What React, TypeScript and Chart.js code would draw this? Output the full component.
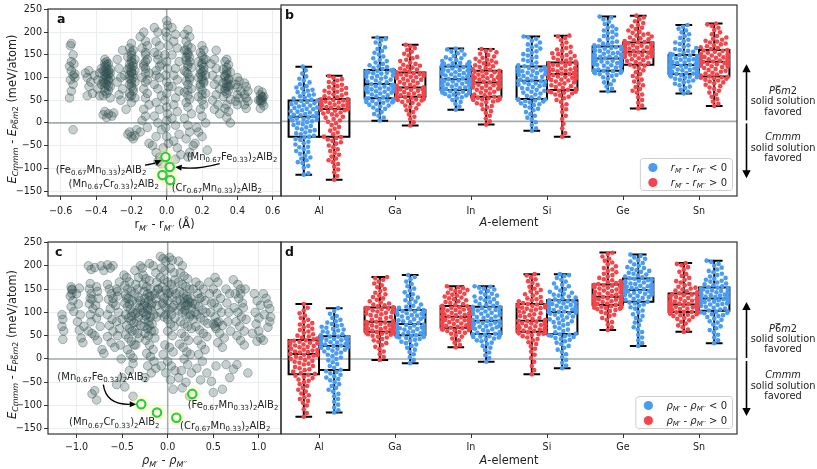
import React, { useEffect, useRef } from 'react';
import { Chart, registerables } from 'chart.js';
Chart.register(...registerables);

const FONT = '"DejaVu Sans", sans-serif';

// ---------------- data ----------------
const A_ELEMENTS = ['Al', 'Ga', 'In', 'Si', 'Ge', 'Sn'];
const E_TICKS = [-150, -100, -50, 0, 50, 100, 150, 200, 250];
const R_TICKS = [-0.6, -0.4, -0.2, 0, 0.2, 0.4, 0.6];
const RHO_TICKS = [-1, -0.5, 0, 0.5, 1];

// [min, q1, median, q3, max] per A-element
const BOX_B_NEG = [[-115, -33, 10, 45, 118], [1.5, 50, 80.6, 111, 181], [25, 67.6, 91, 118.5, 157], [-20, 48, 87.7, 118.5, 183], [64.6, 109, 135.8, 161.6, 226], [60, 102, 121.5, 143, 207.7]];
const BOX_B_POS = [[-126, -33, 26.7, 48, 98.5], [-9, 53, 73, 105.6, 165], [-7, 53, 84, 109, 156], [-33, 67.6, 102, 127, 184.7], [28, 122, 150, 170, 228], [33, 97, 128.6, 153.8, 211]];
const BOX_D_POS = [[-124, -32.8, 10.7, 40.7, 117.8], [-2, 58.5, 80, 110.7, 176], [25, 67, 90.6, 113.5, 156], [-32.8, 58.5, 82, 117.8, 182], [62, 115.7, 133.4, 160, 228.5], [58.5, 101, 117, 140.7, 206]];
const BOX_D_NEG = [[-115, -23.6, 27.8, 49, 108.6], [-9, 51, 75, 105, 180], [-5.7, 53.5, 82, 112, 156], [-20, 53.5, 101, 126, 182], [27.8, 122.7, 147.8, 172.8, 224], [33.6, 103.5, 130, 153.6, 210.6]];

// swarm values (meV/atom), panel b: r_M' - r_M'' < 0 (blue)
const SWARM_B_NEG = [
  [-115, -112, -100, -96, -90, -88, -84, -80, -78, -74, -70, -66, -64, -60, -56, -55, -50, -47, -44, -40, -38, -35, -33, -31, -28, -26, -24, -21, -19, -17, -15, -13, -10, -8, -6, -4, -2, 0, 2, 3, 5, 6, 8, 9, 10, 11, 13, 14, 16, 18, 19, 21, 22, 24, 26, 27, 29, 30, 32, 34, 35, 37, 39, 40, 42, 44, 45, 47, 49, 51, 54, 56, 58, 61, 63, 66, 68, 71, 73, 76, 80, 84, 88, 92, 97, 103, 110, 118],
  [2, 8, 12, 16, 20, 24, 27, 30, 32, 34, 36, 38, 40, 41, 42, 43, 44, 45, 46, 47, 48, 49, 50, 52, 54, 56, 58, 60, 62, 63, 64, 65, 66, 68, 69, 70, 71, 72, 73, 74, 75, 76, 78, 79, 80, 82, 84, 86, 88, 90, 92, 94, 95, 96, 98, 99, 100, 102, 103, 104, 105, 106, 107, 108, 109, 110, 111, 113, 115, 117, 119, 121, 124, 127, 130, 133, 136, 140, 144, 148, 152, 156, 160, 165, 170, 175, 178, 181],
  [25, 32, 38, 42, 46, 50, 52, 54, 56, 58, 59, 60, 61, 62, 63, 64, 65, 66, 66, 67, 67, 67, 68, 70, 72, 73, 75, 76, 77, 78, 79, 80, 81, 82, 83, 84, 85, 86, 87, 88, 89, 90, 90, 91, 91, 93, 95, 97, 99, 100, 101, 102, 103, 104, 105, 106, 107, 108, 109, 110, 111, 112, 114, 116, 117, 118, 119, 120, 121, 122, 123, 124, 125, 126, 127, 128, 130, 132, 134, 136, 138, 141, 144, 147, 150, 153, 155, 157],
  [-20, -15, -8, -2, 4, 8, 12, 16, 20, 24, 27, 30, 33, 35, 37, 39, 41, 43, 44, 45, 46, 47, 48, 50, 52, 55, 58, 60, 62, 64, 66, 68, 70, 72, 74, 76, 78, 79, 80, 82, 84, 85, 86, 87, 88, 90, 92, 94, 96, 98, 99, 100, 102, 104, 105, 106, 108, 109, 110, 111, 112, 113, 114, 115, 116, 117, 119, 121, 124, 127, 130, 133, 136, 139, 142, 145, 148, 151, 154, 157, 160, 163, 166, 170, 174, 178, 181, 183],
  [65, 70, 75, 80, 84, 88, 92, 95, 98, 100, 102, 103, 104, 105, 106, 107, 107, 108, 108, 109, 109, 109, 110, 112, 114, 116, 118, 120, 121, 122, 123, 124, 125, 126, 127, 128, 129, 130, 131, 132, 133, 134, 135, 135, 136, 137, 138, 139, 140, 141, 142, 143, 144, 145, 146, 147, 148, 150, 152, 153, 155, 156, 157, 158, 160, 161, 162, 164, 166, 168, 170, 172, 175, 178, 181, 184, 187, 190, 193, 196, 199, 202, 205, 210, 215, 220, 224, 226],
  [60, 64, 68, 72, 75, 78, 81, 84, 86, 88, 90, 92, 94, 95, 96, 97, 98, 99, 100, 100, 101, 101, 102, 103, 104, 105, 106, 107, 108, 109, 110, 111, 112, 113, 114, 115, 116, 117, 118, 119, 120, 120, 121, 121, 122, 123, 124, 125, 126, 127, 128, 129, 130, 131, 132, 133, 134, 135, 136, 137, 138, 139, 140, 141, 142, 143, 144, 146, 148, 150, 152, 154, 156, 158, 161, 164, 167, 170, 173, 176, 180, 184, 188, 192, 196, 200, 204, 208],
];
// panel b: r_M' - r_M'' > 0 (red)
const SWARM_B_POS = [
  [-126, -118, -110, -104, -98, -92, -88, -84, -80, -76, -72, -68, -64, -60, -56, -52, -48, -45, -42, -39, -36, -34, -33, -28, -24, -20, -16, -12, -8, -4, -1, 2, 5, 8, 10, 13, 15, 17, 19, 21, 23, 24, 25, 26, 27, 28, 29, 30, 31, 32, 33, 34, 35, 36, 37, 38, 39, 40, 41, 42, 43, 44, 45, 46, 47, 47, 48, 50, 52, 54, 56, 58, 60, 62, 64, 66, 68, 70, 72, 74, 76, 79, 82, 85, 88, 91, 94, 98],
  [-9, -2, 5, 10, 15, 20, 24, 28, 31, 34, 37, 40, 42, 44, 45, 46, 47, 48, 49, 50, 51, 52, 53, 55, 56, 57, 58, 59, 60, 61, 62, 63, 64, 65, 66, 67, 68, 69, 70, 71, 71, 72, 72, 73, 73, 75, 77, 79, 81, 83, 85, 87, 88, 90, 92, 93, 95, 96, 98, 99, 100, 101, 102, 103, 104, 105, 106, 108, 110, 112, 114, 116, 118, 120, 122, 124, 127, 130, 133, 136, 139, 142, 146, 150, 154, 158, 162, 165],
  [-7, 0, 6, 12, 18, 22, 26, 30, 33, 36, 39, 41, 43, 45, 46, 47, 48, 49, 50, 51, 52, 53, 54, 56, 58, 60, 62, 64, 66, 68, 70, 71, 72, 73, 74, 75, 76, 77, 78, 79, 80, 81, 82, 83, 84, 86, 87, 88, 89, 90, 91, 92, 93, 94, 95, 96, 97, 98, 99, 100, 101, 102, 104, 106, 107, 108, 109, 111, 113, 115, 117, 119, 121, 123, 125, 127, 129, 131, 133, 135, 137, 140, 143, 146, 149, 152, 154, 156],
  [-33, -25, -15, -5, 5, 12, 20, 26, 32, 37, 42, 46, 50, 53, 56, 58, 60, 62, 63, 64, 65, 66, 68, 70, 72, 74, 76, 78, 80, 82, 84, 86, 88, 89, 90, 92, 93, 94, 95, 96, 97, 98, 100, 101, 102, 103, 104, 105, 106, 107, 108, 109, 110, 111, 112, 113, 114, 115, 116, 118, 120, 121, 122, 124, 125, 126, 127, 129, 131, 133, 135, 137, 139, 141, 143, 145, 147, 149, 152, 155, 158, 161, 165, 170, 175, 180, 183, 185],
  [28, 34, 40, 46, 52, 58, 62, 66, 70, 74, 78, 82, 86, 90, 94, 98, 102, 106, 110, 114, 118, 120, 122, 124, 126, 128, 130, 132, 134, 136, 138, 139, 140, 141, 142, 143, 144, 145, 146, 147, 148, 149, 149, 150, 150, 151, 152, 153, 154, 155, 156, 157, 158, 159, 160, 161, 162, 163, 164, 165, 166, 167, 168, 168, 169, 170, 171, 173, 175, 177, 179, 181, 183, 185, 187, 189, 191, 193, 196, 199, 202, 205, 208, 212, 216, 220, 224, 228],
  [33, 38, 43, 48, 53, 58, 62, 66, 70, 73, 76, 79, 82, 84, 86, 88, 90, 92, 93, 94, 95, 96, 97, 99, 101, 103, 105, 107, 109, 111, 113, 115, 117, 118, 119, 120, 121, 122, 123, 124, 125, 126, 127, 128, 129, 130, 131, 132, 133, 134, 135, 136, 137, 138, 139, 140, 141, 142, 143, 144, 145, 146, 148, 150, 152, 153, 154, 156, 158, 160, 162, 164, 166, 168, 170, 172, 174, 176, 178, 181, 184, 188, 192, 197, 202, 206, 209, 211],
];
// panel d: rho_M' - rho_M'' > 0 (red, left)
const SWARM_D_POS = [
  [-124, -116, -108, -100, -94, -90, -86, -82, -78, -74, -70, -66, -62, -58, -54, -50, -47, -44, -41, -38, -36, -34, -32, -30, -27, -24, -22, -20, -17, -15, -12, -10, -8, -6, -4, -2, 0, 2, 4, 5, 7, 8, 9, 10, 11, 12, 14, 15, 16, 18, 19, 20, 22, 23, 25, 26, 28, 29, 31, 32, 34, 35, 37, 38, 39, 40, 42, 44, 46, 48, 50, 53, 56, 59, 62, 65, 68, 71, 74, 77, 80, 84, 88, 93, 98, 104, 110, 118],
  [-2, 4, 10, 16, 21, 26, 30, 34, 37, 40, 43, 46, 48, 50, 52, 53, 54, 55, 56, 57, 57, 58, 59, 60, 61, 62, 63, 64, 65, 66, 67, 68, 69, 70, 71, 72, 73, 74, 75, 76, 77, 78, 79, 79, 80, 82, 84, 86, 88, 90, 92, 94, 96, 97, 99, 100, 101, 102, 104, 105, 106, 107, 108, 109, 110, 110, 111, 113, 115, 117, 119, 121, 124, 127, 130, 133, 136, 139, 142, 146, 150, 154, 158, 162, 166, 170, 173, 176],
  [25, 30, 35, 40, 44, 48, 51, 54, 56, 58, 60, 61, 62, 63, 64, 64, 65, 65, 66, 66, 67, 67, 68, 69, 71, 72, 74, 75, 76, 77, 78, 79, 80, 81, 82, 83, 84, 85, 86, 87, 88, 89, 90, 90, 91, 92, 94, 95, 96, 97, 98, 99, 100, 101, 102, 103, 104, 105, 106, 107, 108, 109, 110, 111, 112, 113, 114, 116, 118, 120, 122, 124, 126, 128, 130, 132, 134, 136, 138, 140, 142, 144, 146, 148, 150, 152, 154, 156],
  [-33, -24, -15, -6, 2, 9, 16, 22, 27, 32, 36, 40, 43, 46, 49, 51, 53, 54, 55, 56, 57, 58, 59, 60, 61, 62, 63, 64, 65, 66, 67, 68, 69, 70, 71, 72, 73, 74, 75, 76, 77, 79, 80, 81, 82, 84, 86, 88, 90, 92, 94, 96, 98, 100, 102, 104, 106, 108, 109, 110, 111, 112, 114, 115, 116, 117, 118, 120, 122, 124, 126, 128, 130, 133, 136, 139, 142, 145, 148, 151, 155, 159, 163, 167, 171, 175, 179, 182],
  [62, 68, 74, 79, 84, 88, 92, 95, 98, 101, 103, 105, 107, 108, 109, 110, 111, 112, 113, 114, 115, 115, 116, 117, 118, 119, 120, 121, 122, 123, 124, 125, 126, 127, 128, 128, 129, 130, 130, 131, 131, 132, 132, 133, 134, 135, 137, 138, 140, 141, 143, 144, 146, 147, 149, 150, 151, 153, 154, 155, 156, 157, 158, 158, 159, 160, 161, 163, 165, 167, 169, 171, 174, 177, 180, 183, 186, 189, 192, 195, 199, 203, 207, 211, 215, 220, 225, 228],
  [58, 63, 68, 72, 76, 80, 83, 86, 88, 90, 92, 94, 95, 96, 97, 98, 98, 99, 99, 100, 100, 101, 101, 102, 103, 104, 105, 106, 107, 108, 109, 109, 110, 111, 112, 112, 113, 114, 114, 115, 115, 116, 116, 117, 117, 118, 119, 120, 121, 122, 123, 124, 125, 126, 127, 128, 129, 131, 132, 133, 134, 135, 137, 138, 139, 140, 141, 143, 145, 147, 149, 151, 153, 155, 158, 161, 164, 167, 170, 174, 178, 182, 187, 192, 197, 201, 204, 206],
];
// panel d: rho_M' - rho_M'' < 0 (blue, right)
const SWARM_D_NEG = [
  [-115, -110, -104, -98, -92, -86, -80, -75, -70, -66, -62, -58, -54, -50, -46, -43, -40, -37, -34, -31, -28, -26, -23, -19, -15, -11, -7, -3, 0, 3, 6, 9, 12, 14, 16, 18, 20, 22, 23, 24, 25, 26, 27, 27, 28, 29, 30, 31, 32, 33, 34, 35, 36, 37, 38, 39, 40, 41, 42, 43, 44, 45, 46, 47, 48, 48, 49, 51, 53, 55, 57, 59, 61, 63, 65, 67, 69, 71, 73, 75, 78, 81, 84, 88, 92, 97, 103, 109],
  [-9, -2, 4, 10, 15, 20, 24, 28, 31, 34, 37, 39, 41, 43, 45, 46, 47, 48, 49, 50, 50, 51, 52, 53, 55, 56, 57, 58, 59, 60, 61, 62, 63, 64, 65, 66, 67, 68, 69, 70, 71, 72, 73, 74, 75, 77, 79, 81, 83, 85, 86, 88, 90, 91, 93, 94, 95, 97, 98, 99, 100, 101, 102, 103, 104, 105, 106, 108, 110, 112, 114, 117, 120, 123, 126, 129, 132, 135, 139, 143, 147, 151, 156, 161, 166, 171, 176, 180],
  [-6, 2, 8, 14, 19, 24, 28, 32, 35, 38, 40, 42, 44, 46, 47, 48, 49, 50, 51, 52, 53, 53, 54, 56, 58, 60, 62, 64, 65, 66, 68, 69, 70, 71, 72, 73, 74, 75, 76, 77, 78, 79, 80, 81, 82, 84, 86, 88, 90, 91, 93, 94, 96, 97, 99, 100, 101, 102, 104, 105, 106, 107, 108, 109, 110, 111, 112, 114, 116, 118, 120, 122, 124, 126, 128, 130, 132, 134, 136, 138, 140, 143, 146, 149, 151, 153, 155, 156],
  [-20, -14, -8, -2, 4, 10, 15, 20, 24, 28, 32, 35, 38, 41, 43, 45, 47, 49, 50, 51, 52, 53, 54, 57, 60, 63, 66, 69, 72, 75, 77, 79, 81, 83, 85, 87, 89, 91, 93, 95, 97, 98, 99, 100, 101, 102, 103, 104, 105, 106, 107, 108, 109, 110, 111, 113, 114, 115, 116, 118, 119, 120, 121, 123, 124, 125, 126, 128, 130, 132, 134, 136, 138, 140, 142, 144, 147, 150, 153, 156, 159, 162, 166, 170, 174, 178, 180, 182],
  [28, 34, 40, 46, 52, 58, 63, 68, 73, 78, 83, 88, 92, 96, 100, 104, 108, 111, 114, 117, 119, 121, 123, 125, 127, 129, 131, 133, 135, 136, 137, 138, 139, 140, 141, 142, 143, 144, 145, 146, 146, 147, 147, 148, 148, 149, 150, 151, 152, 153, 154, 155, 156, 157, 158, 159, 160, 161, 162, 164, 165, 166, 168, 169, 170, 172, 173, 175, 177, 179, 181, 183, 185, 187, 189, 191, 193, 195, 197, 200, 203, 206, 209, 212, 215, 218, 221, 224],
  [34, 40, 46, 52, 57, 62, 66, 70, 74, 78, 81, 84, 87, 90, 92, 94, 96, 98, 99, 100, 101, 102, 104, 106, 108, 110, 112, 114, 116, 117, 118, 119, 120, 121, 122, 123, 124, 125, 126, 127, 128, 128, 129, 129, 130, 131, 132, 133, 134, 135, 136, 137, 138, 139, 140, 141, 142, 143, 144, 145, 146, 147, 149, 150, 152, 153, 154, 156, 158, 160, 162, 164, 166, 168, 170, 172, 174, 177, 180, 183, 186, 189, 192, 196, 200, 204, 208, 211],
];

// panel a: [r_M' - r_M'' (Å), E_Cmmm - E_P-6m2 (meV/atom)]
const SCATTER_R: [number, number][] = [
  [-0.54, 175], [-0.545, 170], [-0.53, 150], [-0.54, 135], [-0.525, 130], [-0.54, 115], [-0.53, 105], [-0.52, 100], [-0.545, 95], [-0.53, 85], [-0.54, 70], [-0.55, 55], [-0.53, -15], [-0.52, 108], [-0.55, 125],
  [-0.46, 110], [-0.45, 100], [-0.44, 115], [-0.43, 90], [-0.42, 65], [-0.44, 80], [-0.41, 105], [-0.45, 60],
  [-0.39, 95], [-0.38, 110], [-0.39, 75], [-0.37, 120], [-0.38, 60], [-0.37, 85],
  [-0.35, 140], [-0.34, 135], [-0.33, 130], [-0.35, 125], [-0.34, 120], [-0.32, 118], [-0.36, 115], [-0.34, 110], [-0.33, 108], [-0.35, 105], [-0.32, 100], [-0.34, 98], [-0.36, 95], [-0.33, 92], [-0.35, 88], [-0.34, 85], [-0.32, 80], [-0.35, 78], [-0.33, 72], [-0.34, 65], [-0.36, 60], [-0.32, 55], [-0.35, 25], [-0.33, 20], [-0.36, 18], [-0.31, 15], [-0.34, 12], [-0.3, 22],
  [-0.35, 132], [-0.33, 115], [-0.34, 102], [-0.36, 90], [-0.33, 82], [-0.35, 70], [-0.34, 128], [-0.32, 110], [-0.35, 112], [-0.33, 96],
  [-0.28, 140], [-0.27, 120], [-0.26, 100], [-0.28, 90], [-0.25, 75], [-0.27, 62], [-0.26, 50], [-0.24, 105], [-0.25, 160],
  [-0.2, 175], [-0.21, 165], [-0.19, 160], [-0.2, 150], [-0.22, 145], [-0.18, 140], [-0.2, 135], [-0.21, 130], [-0.19, 125], [-0.2, 120], [-0.22, 118], [-0.18, 115], [-0.2, 110], [-0.21, 105], [-0.19, 100], [-0.2, 95], [-0.18, 90], [-0.21, 85], [-0.2, 80], [-0.19, 70], [-0.21, 65], [-0.2, 60], [-0.18, 55], [-0.2, 45], [-0.22, -25], [-0.2, -30], [-0.18, -28], [-0.19, -35], [-0.21, -20], [-0.17, -15], [-0.23, 30],
  [-0.2, 142], [-0.19, 132], [-0.21, 122], [-0.2, 113], [-0.19, 108], [-0.21, 98], [-0.2, 88], [-0.19, 76], [-0.2, 155], [-0.21, 58],
  [-0.15, 190], [-0.13, 200], [-0.12, 180], [-0.14, 165], [-0.12, 155], [-0.11, 140], [-0.13, 130], [-0.12, 120], [-0.1, 110], [-0.14, 100], [-0.12, 90], [-0.13, 75], [-0.11, 65], [-0.12, 55], [-0.1, 40], [-0.13, 30], [-0.12, 15], [-0.14, 5], [-0.11, -10], [-0.15, -20], [-0.1, -45], [-0.12, 150], [-0.11, 170],
  [-0.12, 135], [-0.13, 125], [-0.12, 110], [-0.11, 95],
  [-0.07, 210], [-0.05, 200], [-0.06, 180], [-0.04, 170], [-0.07, 155], [-0.05, 140], [-0.03, 130], [-0.06, 115], [-0.04, 100], [-0.07, 85], [-0.05, 75], [-0.03, 60], [-0.06, 45], [-0.04, 30], [-0.07, 15], [-0.05, 0], [-0.03, -15], [-0.06, -30], [-0.08, -50], [-0.06, -65], [-0.04, -75], [-0.05, -85], [-0.02, -55], [-0.03, -90],
  [-0.05, 150], [-0.04, 125], [-0.06, 105],
  [0, 225], [0.005, 215], [-0.005, 200], [0, 190], [0.01, 170], [-0.01, 150], [0, 135], [0.005, 120], [-0.005, 105], [0, 90], [0.01, 80], [0, 65], [-0.01, 50], [0, 35], [0.005, 20], [0, 5], [-0.005, -10], [0, -30], [0.01, -45],
  [0.03, 210], [0.05, 195], [0.04, 180], [0.06, 165], [0.03, 150], [0.07, 135], [0.05, 120], [0.04, 105], [0.06, 95], [0.03, 80], [0.07, 70], [0.05, 55], [0.04, 40], [0.06, 25], [0.03, 10], [0.05, -5], [0.07, -25], [0.04, -40], [0.06, -55], [0.08, -70], [0.05, -80],
  [0.12, 205], [0.1, 195], [0.13, 190], [0.11, 180], [0.12, 170], [0.14, 165], [0.1, 160], [0.12, 150], [0.13, 145], [0.11, 138], [0.12, 130], [0.14, 122], [0.1, 115], [0.12, 108], [0.13, 100], [0.11, 92], [0.12, 85], [0.14, 75], [0.1, 68], [0.12, 60], [0.13, 52], [0.11, 45], [0.12, 35], [0.14, 20], [0.1, 10], [0.12, -5], [0.13, -20], [0.11, -35], [0.15, -50], [0.13, -65], [0.16, -45], [0.12, -75],
  [0.12, 155], [0.11, 145], [0.13, 135], [0.12, 125], [0.11, 112], [0.13, 95], [0.12, 72], [0.11, 160],
  [0.2, 170], [0.21, 160], [0.19, 155], [0.2, 148], [0.22, 140], [0.18, 135], [0.2, 128], [0.21, 122], [0.19, 118], [0.2, 112], [0.22, 105], [0.18, 100], [0.2, 95], [0.21, 88], [0.19, 80], [0.2, 72], [0.22, 65], [0.18, 58], [0.2, 50], [0.21, 40], [0.19, 30], [0.2, 15], [0.22, 0], [0.18, -20], [0.2, -30], [0.23, -60], [0.17, -10],
  [0.2, 132], [0.21, 115], [0.19, 108], [0.2, 102], [0.21, 92], [0.19, 85], [0.2, 62], [0.21, 140],
  [0.27, 140], [0.28, 120], [0.26, 105], [0.29, 95], [0.27, 85], [0.3, 75], [0.28, 62], [0.26, 50], [0.29, 40], [0.27, 30], [0.3, 20], [0.28, 160], [0.25, 130],
  [0.34, 140], [0.33, 135], [0.35, 128], [0.34, 122], [0.32, 118], [0.36, 112], [0.34, 108], [0.33, 102], [0.35, 98], [0.34, 92], [0.32, 88], [0.36, 84], [0.34, 80], [0.33, 76], [0.35, 72], [0.34, 65], [0.32, 58], [0.36, 52], [0.34, 40], [0.33, 32], [0.35, 25], [0.34, 12], [0.36, 0],
  [0.34, 115], [0.33, 105], [0.35, 95], [0.34, 86], [0.33, 70], [0.35, 80],
  [0.4, 100], [0.41, 92], [0.39, 85], [0.4, 78], [0.42, 70], [0.4, 62], [0.41, 55], [0.39, 48], [0.4, 40],
  [0.44, 88], [0.45, 80], [0.46, 70], [0.44, 62], [0.45, 55], [0.46, 48], [0.44, 40], [0.45, 32],
  [0.52, 72], [0.54, 68], [0.53, 62], [0.55, 58], [0.54, 55], [0.52, 50], [0.53, 48], [0.54, 44], [0.55, 38], [0.53, 32], [0.54, 58], [0.53, 52], [0.54, 50],
];

// panel c: [rho_M' - rho_M'', E_Cmmm - E_P-6m2 (meV/atom)]
const SCATTER_RHO: [number, number][] = [
  [-1.16, 95], [-1.15, 85], [-1.16, 70], [-1.14, 60], [-1.15, 42], [-1.06, 155], [-1.05, 148], [-1.07, 135], [-1.04, 125], [-1.06, 112], [-1.03, 102], [-1.05, 150], [-1.0, 140], [-0.97, 152], [-0.98, 118], [-0.96, 95], [-0.99, 80], [-0.97, 62], [-0.95, 45], [-0.93, 35], [-0.92, 70], [-1.05, 140],
  [-0.87, 200], [-0.84, 192], [-0.8, 196], [-0.85, 162], [-0.86, 150], [-0.84, 140], [-0.83, 128], [-0.86, 118], [-0.82, 108], [-0.85, 95], [-0.84, 80], [-0.87, 60], [-0.83, 55], [-0.8, 50], [-0.78, 155], [-0.77, 145], [-0.76, 130], [-0.79, 115], [-0.75, 100], [-0.78, 88], [-0.74, 70], [-0.77, 40], [-0.72, 20], [-0.7, 12], [-0.73, 200], [-0.7, 190], [-0.83, -75], [-0.78, -88], [-0.8, -68], [-0.85, 130],
  [-0.66, 202], [-0.63, 195], [-0.6, 200], [-0.66, 160], [-0.64, 150], [-0.62, 140], [-0.65, 128], [-0.6, 120], [-0.63, 108], [-0.66, 95], [-0.61, 85], [-0.64, 72], [-0.6, 60], [-0.66, 48], [-0.62, 35], [-0.58, 25], [-0.56, 150], [-0.55, 135], [-0.57, 115], [-0.54, 100], [-0.56, 80], [-0.53, 65], [-0.55, 50], [-0.52, 30], [-0.56, -55], [-0.5, -40], [-0.51, 0], [-0.55, 145], [-0.53, 165], [-0.6, 130], [-0.5, 85],
  [-0.48, 180], [-0.45, 175], [-0.42, 165], [-0.47, 158], [-0.44, 150], [-0.4, 145], [-0.46, 138], [-0.43, 130], [-0.39, 125], [-0.47, 120], [-0.44, 112], [-0.41, 106], [-0.38, 100], [-0.46, 95], [-0.43, 88], [-0.4, 82], [-0.37, 78], [-0.45, 72], [-0.42, 65], [-0.39, 60], [-0.46, 52], [-0.43, 45], [-0.4, 38], [-0.37, 30], [-0.44, 20], [-0.41, 10], [-0.38, 2], [-0.35, 160], [-0.33, 150], [-0.36, 140], [-0.32, 132], [-0.34, 120], [-0.31, 110], [-0.35, 98], [-0.32, 90], [-0.34, 80], [-0.3, 72], [-0.36, 62], [-0.33, 55], [-0.31, 45], [-0.35, 30], [-0.38, -10], [-0.42, -25], [-0.3, 200], [-0.28, 195], [-0.36, 190], [-0.32, 175], [-0.47, -60], [-0.38, -80], [-0.45, 130], [-0.42, 118], [-0.4, 92],
  [-0.27, 180], [-0.24, 172], [-0.2, 168], [-0.27, 160], [-0.23, 155], [-0.19, 150], [-0.26, 145], [-0.22, 140], [-0.18, 135], [-0.25, 130], [-0.21, 125], [-0.17, 120], [-0.26, 115], [-0.22, 110], [-0.18, 105], [-0.27, 100], [-0.23, 95], [-0.19, 90], [-0.25, 85], [-0.21, 80], [-0.17, 75], [-0.26, 70], [-0.22, 65], [-0.18, 60], [-0.25, 55], [-0.21, 50], [-0.14, 45], [-0.24, 40], [-0.2, 30], [-0.16, 20], [-0.23, 12], [-0.19, 5], [-0.15, -5], [-0.22, -15], [-0.18, -30], [-0.13, -20], [-0.25, -40], [-0.2, 205], [-0.16, 200], [-0.13, 185], [-0.12, 165], [-0.14, 140], [-0.12, 115], [-0.15, 95], [-0.13, 130], [-0.11, 150], [-0.12, 90], [-0.15, 60],
  [-0.25, 120], [-0.22, 105], [-0.2, 135], [-0.18, 115], [-0.24, 92], [-0.2, 72], [-0.3, 125], [-0.28, 110], [-0.33, 100],
  [-0.08, 220], [-0.05, 215], [-0.02, 210], [0.02, 218], [0.05, 212], [-0.07, 195], [-0.03, 190], [0.03, 195], [0.07, 185], [-0.08, 175], [-0.04, 170], [0.0, 165], [0.04, 160], [0.08, 170], [-0.06, 155], [-0.02, 148], [0.02, 142], [0.06, 150], [-0.08, 138], [-0.04, 130], [0.0, 125], [0.05, 132], [0.09, 140], [-0.06, 118], [-0.02, 110], [0.02, 105], [0.07, 115], [-0.08, 100], [0.04, 95], [0.08, 88], [0.0, 85], [-0.04, 90], [0.03, 75], [0.07, 70], [0.0, 60], [0.05, 50], [-0.03, 30], [0.02, 25], [0.06, 15], [-0.05, 10], [0.0, -5], [0.04, -15], [-0.02, -30], [0.03, -45], [0.08, -25], [-0.07, -15], [0.06, -65],
  [-0.1, 150], [-0.05, 120], [0.0, 140], [0.05, 110], [-0.02, 95], [0.1, 125],
  [0.12, 210], [0.16, 200], [0.14, 185], [0.18, 178], [0.22, 172], [0.12, 165], [0.16, 160], [0.2, 155], [0.24, 150], [0.13, 145], [0.17, 140], [0.21, 135], [0.25, 130], [0.14, 125], [0.18, 120], [0.22, 115], [0.26, 110], [0.12, 105], [0.16, 100], [0.2, 95], [0.24, 90], [0.28, 85], [0.14, 80], [0.18, 75], [0.22, 70], [0.26, 65], [0.15, 55], [0.19, 48], [0.23, 40], [0.13, 32], [0.17, 25], [0.21, 15], [0.25, 10], [0.18, 0], [0.22, -12], [0.15, -25], [0.26, -30], [0.2, -50], [0.16, -62], [0.24, -80], [0.12, -40], [0.28, 150], [0.27, 120],
  [0.18, 130], [0.2, 115], [0.22, 128], [0.19, 105], [0.24, 122], [0.3, 100], [0.25, 95], [0.15, 112],
  [0.31, 165], [0.35, 158], [0.39, 150], [0.33, 140], [0.37, 132], [0.41, 125], [0.3, 118], [0.34, 112], [0.38, 105], [0.42, 100], [0.32, 95], [0.36, 88], [0.4, 82], [0.44, 76], [0.31, 70], [0.35, 62], [0.39, 55], [0.43, 48], [0.33, 40], [0.37, 30], [0.41, 20], [0.34, 10], [0.38, -5], [0.32, -20], [0.43, -30], [0.36, -45], [0.46, 140], [0.45, 165], [0.48, 120], [0.47, 100], [0.35, 130],
  [0.52, 175], [0.55, 165], [0.5, 150], [0.54, 140], [0.58, 130], [0.51, 120], [0.55, 110], [0.59, 100], [0.52, 90], [0.56, 80], [0.6, 72], [0.53, 65], [0.57, 55], [0.62, 45], [0.55, 35], [0.6, 25], [0.65, 120], [0.64, 150], [0.68, 140], [0.67, 100], [0.66, 80], [0.69, 60], [0.53, -15], [0.64, -12], [0.48, -48], [0.6, -65], [0.5, -72], [0.68, -40], [0.5, 75], [0.52, 70], [0.54, 78],
  [0.72, 170], [0.77, 160], [0.8, 150], [0.74, 140], [0.78, 130], [0.82, 120], [0.73, 110], [0.77, 100], [0.81, 90], [0.75, 80], [0.79, 70], [0.84, 60], [0.76, 50], [0.8, 40], [0.84, 30], [0.85, 150], [0.83, 110], [0.86, 85], [0.76, -12], [0.88, -30], [0.72, -22], [0.8, 140],
  [0.95, 140], [0.98, 125], [1.02, 115], [0.96, 100], [1.0, 88], [1.05, 140], [1.08, 130], [1.1, 118], [1.12, 108], [1.06, 95], [1.12, 80], [1.1, 68], [1.13, 90], [0.97, 75], [1.0, 60], [1.02, 45], [0.98, 38], [1.05, 40], [0.93, 55],
];

// highlighted compounds
const HIGHLIGHT_M = [['Fe', '0.67', 'Mn', '0.33'], ['Mn', '0.67', 'Fe', '0.33'], ['Mn', '0.67', 'Cr', '0.33'], ['Cr', '0.67', 'Mn', '0.33']];
const HIGHLIGHT_E = [-75, -97, -115, -126];
const HIGHLIGHT_R = [-0.007, 0.017, -0.024, 0.02];
const HIGHLIGHT_RHO = [0.27, -0.29, -0.117, 0.095];

// ---------------- layout / style ----------------
const W = 817, H = 469;
const TOP = { top: 5, bottom: 196, xh: 39 };
const BOT = { top: 242, bottom: 434, xh: 35 };
const LCOL = { left: 48, right: 281 };
const RCOL = { left: 281, right: 737 };
const E_MIN = -161, E_MAX = 251;
const BLUE = '#4a9cf0';
const RED = '#f2464a';
const GRAY_FILL = 'rgba(47,79,79,0.27)';
const GRAY_EDGE = 'rgba(47,79,79,0.37)';
const GREEN = '#2ccb48';
const ZERO_COLOR = '#a3acac';
const SPINE = '#333333';
const GRID = '#e9eded';
const TXT = '#222222';
const TICK_SIZE = 9.6;

type Seg = { t: string; it?: boolean; sub?: boolean; bar?: boolean; bold?: boolean };

function segFont(s: Seg, size: number) {
  const sz = s.sub ? size * 0.7 : size;
  return `${s.it ? 'italic ' : ''}${s.bold ? 'bold ' : ''}${sz}px ${FONT}`;
}
function richWidth(ctx: CanvasRenderingContext2D, segs: Seg[], size: number) {
  let w = 0;
  for (const s of segs) { ctx.font = segFont(s, size); w += ctx.measureText(s.t).width; }
  return w;
}
function drawRich(ctx: CanvasRenderingContext2D, segs: Seg[], x: number, y: number, size: number, align = 'left', color = TXT) {
  const w = richWidth(ctx, segs, size);
  let cx = align === 'left' ? x : align === 'center' ? x - w / 2 : x - w;
  ctx.save();
  ctx.fillStyle = color; ctx.strokeStyle = color;
  ctx.textAlign = 'left'; ctx.textBaseline = 'alphabetic';
  for (const s of segs) {
    ctx.font = segFont(s, size);
    const sw = ctx.measureText(s.t).width;
    const sz = s.sub ? size * 0.7 : size;
    const dy = s.sub ? size * 0.22 : 0;
    ctx.fillText(s.t, cx, y + dy);
    if (s.bar) {
      ctx.lineWidth = Math.max(0.7, sz * 0.08);
      ctx.beginPath();
      ctx.moveTo(cx + sw * 0.1, y + dy - sz * 0.86);
      ctx.lineTo(cx + sw * 0.9, y + dy - sz * 0.86);
      ctx.stroke();
    }
    cx += sw;
  }
  ctx.restore();
  return w;
}
function formula(m: string[]): Seg[] {
  return [{ t: '(' + m[0] }, { t: m[1], sub: true }, { t: m[2] }, { t: m[3], sub: true }, { t: ')' }, { t: '2', sub: true }, { t: 'AlB' }, { t: '2', sub: true }];
}
const Y_TITLE: Seg[] = [{ t: 'E', it: true }, { t: 'Cmmm', it: true, sub: true }, { t: ' - ' }, { t: 'E', it: true }, { t: 'P', it: true, sub: true }, { t: '6', sub: true, bar: true }, { t: 'm', it: true, sub: true }, { t: '2', sub: true }, { t: ' (meV/atom)' }];
const R_TITLE: Seg[] = [{ t: 'r' }, { t: 'M\u2032', it: true, sub: true }, { t: ' - r' }, { t: 'M\u2032\u2032', it: true, sub: true }, { t: ' (Å)' }];
const RHO_TITLE: Seg[] = [{ t: 'ρ', it: true }, { t: 'M\u2032', it: true, sub: true }, { t: ' - ' }, { t: 'ρ', it: true }, { t: 'M\u2032\u2032', it: true, sub: true }];
const A_TITLE: Seg[] = [{ t: 'A', it: true }, { t: '-element' }];
const legendSegs = (sym: string, op: string): Seg[] => [{ t: sym, it: true }, { t: 'M\u2032', it: true, sub: true }, { t: ' - ' }, { t: sym, it: true }, { t: 'M\u2032\u2032', it: true, sub: true }, { t: ' ' + op + ' 0' }];

const fmtE = (v: number) => (v < 0 ? '\u2212' : '') + Math.abs(v).toFixed(0);
const fmt1 = (v: number) => (v < 0 ? '\u2212' : '') + Math.abs(v).toFixed(1);

// ---------------- swarm layout ----------------
const SWARM_R = 2.3;
function swarmOffsets(vals: number[], pxPerY: number, d: number, maxHalf: number) {
  const idx = vals.map((_, i) => i).sort((a, b) => vals[a] - vals[b]);
  const placed: { x: number; y: number }[] = [];
  const out = new Array(vals.length).fill(0);
  for (const i of idx) {
    const y = vals[i] * pxPerY;
    const near = placed.filter((p) => Math.abs(p.y - y) < d);
    const cands = [0];
    for (const p of near) {
      const dx = Math.sqrt(d * d - (p.y - y) * (p.y - y));
      cands.push(p.x + dx, p.x - dx);
    }
    cands.sort((a, b) => Math.abs(a) - Math.abs(b));
    let chosen = cands[cands.length - 1];
    for (const c of cands) {
      if (near.every((p) => (p.x - c) * (p.x - c) + (p.y - y) * (p.y - y) >= d * d - 1e-6)) { chosen = c; break; }
    }
    placed.push({ x: chosen, y });
    out[i] = Math.max(-maxHalf, Math.min(maxHalf, chosen));
  }
  return out;
}
function swarmDataset(groups: number[][], side: number, color: string, plotH: number) {
  const pxPerY = plotH / (E_MAX - E_MIN);
  const pxPerCat = (RCOL.right - RCOL.left) / A_ELEMENTS.length;
  const data: { x: number; y: number }[] = [];
  groups.forEach((vals, i) => {
    const offs = swarmOffsets(vals, pxPerY, 4.8, 13.5);
    vals.forEach((v, j) => data.push({ x: i + side * 0.2 + offs[j] / pxPerCat, y: v }));
  });
  return { type: 'scatter', data, pointRadius: SWARM_R, pointBackgroundColor: color, backgroundColor: color, borderWidth: 0, pointBorderWidth: 0 };
}
function boxDataset(stats: number[][], side: number) {
  const data: any[] = [];
  const hw = 0.2, cw = 0.11;
  const br = () => data.push({ x: NaN, y: null });
  stats.forEach(([mn, q1, md, q3, mx], i) => {
    const c = i + side * 0.2;
    data.push({ x: c - cw, y: mn }, { x: c + cw, y: mn }); br();
    data.push({ x: c, y: mn }, { x: c, y: q1 }); br();
    data.push({ x: c, y: q1 }, { x: c + hw, y: q1 }, { x: c + hw, y: q3 }, { x: c - hw, y: q3 }, { x: c - hw, y: q1 }, { x: c, y: q1 }); br();
    data.push({ x: c - hw, y: md }, { x: c + hw, y: md }); br();
    data.push({ x: c, y: q3 }, { x: c, y: mx }); br();
    data.push({ x: c - cw, y: mx }, { x: c + cw, y: mx }); br();
  });
  return { type: 'scatter', data, showLine: true, spanGaps: false, pointRadius: 0, borderColor: '#000', borderWidth: 2, borderJoinStyle: 'miter', backgroundColor: 'transparent' };
}

// ---------------- panel plugin ----------------
function drawArrow(ctx: CanvasRenderingContext2D, x1: number, y1: number, cx: number, cy: number, x2: number, y2: number) {
  ctx.save();
  ctx.strokeStyle = '#000'; ctx.fillStyle = '#000'; ctx.lineWidth = 1.3;
  const ang = Math.atan2(y2 - cy, x2 - cx);
  const len = 6.5, hw = 3;
  const bx = x2 - len * Math.cos(ang), by = y2 - len * Math.sin(ang);
  ctx.beginPath(); ctx.moveTo(x1, y1); ctx.quadraticCurveTo(cx, cy, bx, by); ctx.stroke();
  ctx.beginPath();
  ctx.moveTo(x2, y2);
  ctx.lineTo(bx + hw * Math.sin(ang), by - hw * Math.cos(ang));
  ctx.lineTo(bx - hw * Math.sin(ang), by + hw * Math.cos(ang));
  ctx.closePath(); ctx.fill();
  ctx.restore();
}

function panelPlugin(p: any) {
  return {
    id: 'panel_' + p.letter,
    beforeDatasetsDraw(chart: any) {
      const { ctx, chartArea: a, scales } = chart;
      const y0 = scales.y.getPixelForValue(0);
      ctx.save();
      ctx.strokeStyle = ZERO_COLOR; ctx.lineWidth = 1.6;
      ctx.beginPath(); ctx.moveTo(a.left, y0); ctx.lineTo(a.right, y0);
      if (p.vZero) { const x0 = scales.x.getPixelForValue(0); ctx.moveTo(x0, a.top); ctx.lineTo(x0, a.bottom); }
      ctx.stroke(); ctx.restore();
    },
    afterDatasetsDraw(chart: any) {
      const { ctx, chartArea: a } = chart;
      ctx.save(); ctx.strokeStyle = SPINE; ctx.lineWidth = 1.2;
      ctx.strokeRect(a.left, a.top, a.right - a.left, a.bottom - a.top);
      ctx.restore();
    },
    afterDraw(chart: any) {
      const { ctx, chartArea: a, scales } = chart;
      const sx = (v: number) => scales.x.getPixelForValue(v);
      const sy = (v: number) => scales.y.getPixelForValue(v);
      drawRich(ctx, [{ t: p.letter, bold: true }], a.left + p.letterDx, a.top + 14, 12.5, 'left', '#111');
      drawRich(ctx, p.xTitle, (a.left + a.right) / 2, a.bottom + p.xTitleDy, 11.4, 'center');
      if (p.yTitle) {
        ctx.save();
        ctx.translate(15.5, (a.top + a.bottom) / 2 + 6.5);
        ctx.rotate(-Math.PI / 2);
        drawRich(ctx, Y_TITLE, 0, 0, 11.4, 'center');
        ctx.restore();
      }
      (p.labels || []).forEach((l: any) => {
        drawRich(ctx, formula(HIGHLIGHT_M[l.i]), sx(l.x), sy(l.y) + 3.5, 10, l.align);
      });
      (p.arrows || []).forEach((ar: any) => {
        drawArrow(ctx, sx(ar.from[0]), sy(ar.from[1]), sx(ar.ctrl[0]), sy(ar.ctrl[1]), sx(ar.to[0]), sy(ar.to[1]));
      });
      if (p.legend) {
        const size = 10;
        const tw = Math.max(...p.legend.map((e: any) => richWidth(ctx, e.segs, size)));
        const w = 31 + tw + 5, h = 32;
        const x0 = a.right - 5 - w, y0 = a.bottom - 6 - h;
        ctx.save();
        ctx.fillStyle = 'rgba(255,255,255,0.85)'; ctx.strokeStyle = '#cfcfcf'; ctx.lineWidth = 1;
        ctx.beginPath(); (ctx as any).roundRect(x0 + 0.5, y0 + 0.5, w, h, 3); ctx.fill(); ctx.stroke();
        p.legend.forEach((e: any, i: number) => {
          const cy = y0 + 9.5 + i * 15;
          ctx.fillStyle = e.color; ctx.beginPath(); ctx.arc(x0 + 13, cy, 4.6, 0, Math.PI * 2); ctx.fill();
          drawRich(ctx, e.segs, x0 + 31, cy + 3.6, size, 'left');
        });
        ctx.restore();
      }
      if (p.side) {
        const xa = a.right + 9.5, y0 = sy(0);
        ctx.save();
        ctx.strokeStyle = '#000'; ctx.fillStyle = '#000'; ctx.lineWidth = 1.6;
        [[-1, -57], [2, 57]].forEach(([st, tip]) => {
          const dir = Math.sign(tip);
          ctx.beginPath(); ctx.moveTo(xa, y0 + st); ctx.lineTo(xa, y0 + tip - dir * 7); ctx.stroke();
          ctx.beginPath(); ctx.moveTo(xa, y0 + tip); ctx.lineTo(xa - 4.2, y0 + tip - dir * 8); ctx.lineTo(xa + 4.2, y0 + tip - dir * 8); ctx.closePath(); ctx.fill();
        });
        ctx.restore();
        const tx = a.right + 46, fs = 9.8;
        drawRich(ctx, [{ t: 'P', it: true }, { t: '6', bar: true }, { t: 'm', it: true }, { t: '2' }], tx, y0 - 27, fs, 'center');
        drawRich(ctx, [{ t: 'solid solution' }], tx, y0 - 17, fs, 'center');
        drawRich(ctx, [{ t: 'favored' }], tx, y0 - 6.5, fs, 'center');
        drawRich(ctx, [{ t: 'Cmmm', it: true }], tx, y0 + 19, fs, 'center');
        drawRich(ctx, [{ t: 'solid solution' }], tx, y0 + 29.7, fs, 'center');
        drawRich(ctx, [{ t: 'favored' }], tx, y0 + 40, fs, 'center');
      }
    },
  };
}

// ---------------- chart configs ----------------
const tickFont = { family: FONT, size: TICK_SIZE, lineHeight: 1 };

function yScale(show: boolean) {
  return show ? {
    type: 'linear', min: E_MIN, max: E_MAX,
    afterBuildTicks: (s: any) => { s.ticks = E_TICKS.map((v) => ({ value: v })); },
    afterFit: (s: any) => { s.width = LCOL.left; },
    ticks: { font: tickFont, color: TXT, padding: 2, callback: (v: number) => fmtE(v) },
    grid: { color: GRID, tickColor: SPINE, tickLength: 4, lineWidth: 1 },
    border: { display: false },
  } : { type: 'linear', display: false, min: E_MIN, max: E_MAX };
}
function xScale(min: number, max: number, ticks: number[], fmt: (v: number) => string, h: number, pad: number, grid: boolean) {
  return {
    type: 'linear', min, max,
    afterBuildTicks: (s: any) => { s.ticks = ticks.map((v) => ({ value: v })); },
    afterFit: (s: any) => { s.height = h; },
    ticks: { font: tickFont, color: TXT, padding: pad, maxRotation: 0, autoSkip: false, callback: (v: number) => fmt(v) },
    grid: grid ? { color: GRID, tickColor: SPINE, tickLength: 4, lineWidth: 1 } : { drawOnChartArea: false, tickColor: SPINE, tickLength: 4 },
    border: { display: false },
  };
}
function baseOptions(padding: any, scales: any) {
  return {
    responsive: false, animation: false, devicePixelRatio: 1, events: [],
    layout: { padding },
    plugins: { legend: { display: false }, tooltip: { enabled: false } },
    scales,
  };
}
function scatterPanelDatasets(points: [number, number][], hx: number[]) {
  const hl = hx.map((x, i) => ({ x, y: HIGHLIGHT_E[i] }));
  return [
    { type: 'scatter', data: hl, pointRadius: 4.2, pointBorderWidth: 2.2, pointBorderColor: GREEN, pointBackgroundColor: 'rgba(255,255,215,0.7)' },
    { type: 'scatter', data: hl, pointRadius: 9, pointBorderWidth: 0, pointBackgroundColor: 'rgba(255,250,150,0.3)' },
    { type: 'scatter', data: points.map(([x, y]) => ({ x, y })), pointRadius: 4.3, pointBorderWidth: 1, pointBorderColor: GRAY_EDGE, pointBackgroundColor: GRAY_FILL },
  ];
}

function configA() {
  return {
    type: 'scatter',
    data: { datasets: scatterPanelDatasets(SCATTER_R, HIGHLIGHT_R) },
    options: baseOptions({ left: 0, top: TOP.top, right: W - LCOL.right, bottom: H - TOP.bottom - TOP.xh }, {
      x: xScale(-0.672, 0.647, R_TICKS, fmt1, TOP.xh, 7, true),
      y: yScale(true),
    }),
    plugins: [panelPlugin({
      letter: 'a', letterDx: 9, vZero: true, xTitle: R_TITLE, xTitleDy: 32, yTitle: true,
      labels: [
        { i: 0, x: -0.115, y: -102, align: 'right' },
        { i: 1, x: 0.113, y: -74, align: 'left' },
        { i: 2, x: -0.044, y: -133, align: 'right' },
        { i: 3, x: 0.028, y: -142, align: 'left' },
      ],
      arrows: [
        { from: [-0.123, -93], ctrl: [-0.075, -90], to: [-0.03, -82] },
        { from: [0.3, -89.5], ctrl: [0.17, -103], to: [0.048, -97] },
      ],
    })],
  };
}
function configB() {
  const plotH = TOP.bottom - TOP.top;
  return {
    type: 'scatter',
    data: { datasets: [swarmDataset(SWARM_B_NEG, -1, BLUE, plotH), swarmDataset(SWARM_B_POS, 1, RED, plotH), boxDataset(BOX_B_NEG, -1), boxDataset(BOX_B_POS, 1)] },
    options: baseOptions({ left: RCOL.left, top: TOP.top, right: W - RCOL.right, bottom: H - TOP.bottom - TOP.xh }, {
      x: xScale(-0.5, A_ELEMENTS.length - 0.5, A_ELEMENTS.map((_, i) => i), (v) => A_ELEMENTS[Math.round(v)] ?? '', TOP.xh, 7, false),
      y: yScale(false),
    }),
    plugins: [panelPlugin({
      letter: 'b', letterDx: 4, vZero: false, xTitle: A_TITLE, xTitleDy: 30, side: true,
      legend: [{ color: BLUE, segs: legendSegs('r', '<') }, { color: RED, segs: legendSegs('r', '>') }],
    })],
  };
}
function configC() {
  return {
    type: 'scatter',
    data: { datasets: scatterPanelDatasets(SCATTER_RHO, HIGHLIGHT_RHO) },
    options: baseOptions({ left: 0, top: BOT.top, right: W - LCOL.right, bottom: H - BOT.bottom - BOT.xh }, {
      x: xScale(-1.313, 1.243, RHO_TICKS, fmt1, BOT.xh, 5, true),
      y: yScale(true),
    }),
    plugins: [panelPlugin({
      letter: 'c', letterDx: 7, vZero: true, xTitle: RHO_TITLE, xTitleDy: 30, yTitle: true,
      labels: [
        { i: 1, x: -0.713, y: -38, align: 'center' },
        { i: 2, x: -0.09, y: -135, align: 'right' },
        { i: 3, x: 0.135, y: -143, align: 'left' },
        { i: 0, x: 0.219, y: -98, align: 'left' },
      ],
      arrows: [
        { from: [-0.706, -55], ctrl: [-0.677, -98], to: [-0.345, -97] },
      ],
    })],
  };
}
function configD() {
  const plotH = BOT.bottom - BOT.top;
  return {
    type: 'scatter',
    data: { datasets: [swarmDataset(SWARM_D_POS, -1, RED, plotH), swarmDataset(SWARM_D_NEG, 1, BLUE, plotH), boxDataset(BOX_D_POS, -1), boxDataset(BOX_D_NEG, 1)] },
    options: baseOptions({ left: RCOL.left, top: BOT.top, right: W - RCOL.right, bottom: H - BOT.bottom - BOT.xh }, {
      x: xScale(-0.5, A_ELEMENTS.length - 0.5, A_ELEMENTS.map((_, i) => i), (v) => A_ELEMENTS[Math.round(v)] ?? '', BOT.xh, 5, false),
      y: yScale(false),
    }),
    plugins: [panelPlugin({
      letter: 'd', letterDx: 4, vZero: false, xTitle: A_TITLE, xTitleDy: 30, side: true,
      legend: [{ color: BLUE, segs: legendSegs('ρ', '<') }, { color: RED, segs: legendSegs('ρ', '>') }],
    })],
  };
}

export default function App() {
  const r1 = useRef<HTMLCanvasElement>(null);
  const r2 = useRef<HTMLCanvasElement>(null);
  const r3 = useRef<HTMLCanvasElement>(null);
  const r4 = useRef<HTMLCanvasElement>(null);
  useEffect(() => {
    document.body.style.margin = '0';
    const cfgs = [configA(), configB(), configC(), configD()];
    const refs = [r1, r2, r3, r4];
    const charts = cfgs.map((cfg, i) => new Chart(refs[i].current as HTMLCanvasElement, cfg as any));
    return () => charts.forEach((c) => c.destroy());
  }, []);
  const st: React.CSSProperties = { position: 'absolute', left: 0, top: 0 };
  return (
    <div style={{ position: 'relative', width: W, height: H, background: '#fff' }}>
      <canvas ref={r1} width={W} height={H} style={st} />
      <canvas ref={r2} width={W} height={H} style={st} />
      <canvas ref={r3} width={W} height={H} style={st} />
      <canvas ref={r4} width={W} height={H} style={st} />
    </div>
  );
}
